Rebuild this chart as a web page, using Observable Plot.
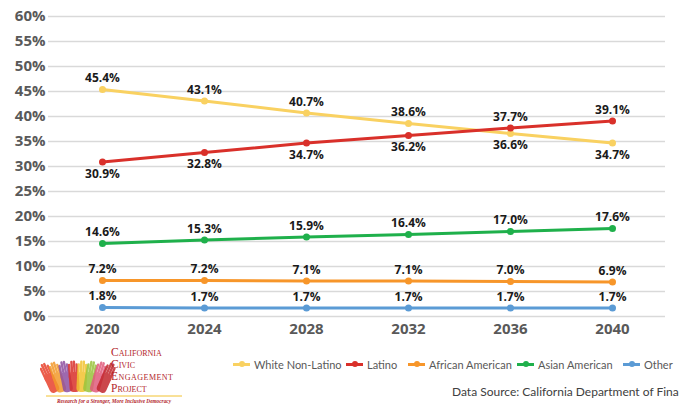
<!DOCTYPE html>
<html><head><meta charset="utf-8">
<script src="https://cdn.jsdelivr.net/npm/d3@7"></script>
<script src="https://cdn.jsdelivr.net/npm/@observablehq/plot@0.6"></script>
<style>
body{margin:0;background:#fff;}
#wrap{position:relative;width:679px;height:407px;overflow:hidden;font-family:"Open Sans",sans-serif;}
#foot{position:absolute;left:0;top:340px;width:679px;height:67px;}
.leg{position:absolute;top:18px;font-family:Lato,sans-serif;font-size:11px;color:#595959;white-space:nowrap;display:flex;align-items:center;}
.sw{display:inline-block;position:relative;width:17px;height:3px;margin-right:4px;}
.sw i{position:absolute;left:6px;top:-2px;width:6px;height:6px;border-radius:50%;}
#src{position:absolute;left:452px;top:44px;font-family:Lato,sans-serif;font-size:12px;color:#404040;white-space:nowrap;}
</style></head><body>
<div id="wrap"><div id="chart"></div><div id="foot">
<svg id="logo" width="200" height="67" style="position:absolute;left:40px;top:0"></svg>
<div id="legend"></div>
<div id="src">Data Source: California Department of Finance</div>
</div></div>
<script>
const years = ["2020","2024","2028","2032","2036","2040"];
const seriesNames = ["White Non-Latino","Latino","African American","Asian American","Other"];
const white = [45.4,43.1,40.7,38.6,36.6,34.7];
const latino = [30.9,32.8,34.7,36.2,37.7,39.1];
const african = [7.2,7.2,7.1,7.1,7.0,6.9];
const asian = [14.6,15.3,15.9,16.4,17.0,17.6];
const other = [1.8,1.7,1.7,1.7,1.7,1.7];
const yTicks = [0,5,10,15,20,25,30,35,40,45,50,55,60];
const colors = ["#F9D161","#D9302A","#F7962A","#1FB04B","#5B9BD5"];

const values = [white, latino, african, asian, other];
const data = [];
values.forEach((arr, s) => arr.forEach((v, i) => {
  let below = false;
  if (s === 0) below = v < latino[i];
  if (s === 1) below = v < white[i];
  data.push({series: seriesNames[s], year: years[i], value: v, below});
}));

const chart = Plot.plot({
  width: 679, height: 340,
  marginLeft: 48, marginRight: 14, marginTop: 16, marginBottom: 24,
  style: {fontFamily: "Open Sans, sans-serif", fontSize: "15px", fontWeight: "bold", color: "#595959", background: "#fff"},
  x: {type: "point", domain: years, padding: 0.5, label: null},
  y: {domain: [0, 60], label: null},
  color: {domain: seriesNames, range: colors},
  marks: [
    Plot.ruleY(yTicks, {stroke: "#d9d9d9", strokeWidth: 1.5, strokeOpacity: 1}),
    Plot.axisY({ticks: yTicks, tickSize: 0, tickPadding: 3, tickFormat: d => d + "%", fontSize: 15, fontWeight: "bold", label: null}),
    Plot.axisX({tickSize: 0, tickPadding: 7, fontSize: 15, fontWeight: "bold", label: null}),
    Plot.line(data, {x: "year", y: "value", z: "series", stroke: "series", strokeWidth: 3}),
    Plot.dot(data, {x: "year", y: "value", fill: "series", r: 3.5}),
    Plot.text(data.filter(d => !d.below), {x: "year", y: "value", text: d => d.value.toFixed(1) + "%", dy: -11, fill: "#1a1a1a", fontSize: 12, fontWeight: "bold"}),
    Plot.text(data.filter(d => d.below), {x: "year", y: "value", text: d => d.value.toFixed(1) + "%", dy: 12, fill: "#1a1a1a", fontSize: 12, fontWeight: "bold"})
  ]
});
document.getElementById("chart").appendChild(chart);

// legend
const legX = [233, 346, 408, 517, 623];
const legend = document.getElementById("legend");
seriesNames.forEach((n, i) => {
  const d = document.createElement("div");
  d.className = "leg";
  d.style.left = legX[i] + "px";
  d.innerHTML = `<span class="sw" style="background:${colors[i]}"><i style="background:${colors[i]}"></i></span>${n}`;
  legend.appendChild(d);
});

// logo (decorative)
const logo = d3.select("#logo");
const handCols = ["#E8412C","#F39A2B","#8E4FA0","#D9302A","#F2C230","#9AC43C","#E15B7C","#C2272D"];
handCols.forEach((c, i) => {
  const cx = 16 + i * 6.3, ang = -25 + i * 7;
  const g = logo.append("g").attr("transform", `translate(${cx},${52}) rotate(${ang})`).attr("opacity", 0.85);
  g.append("rect").attr("x", -5).attr("y", -20).attr("width", 10).attr("height", 20).attr("rx", 4).attr("fill", c);
  [-4,-1.5,1,3.5].forEach((fx, k) => g.append("rect").attr("x", fx - 1.1).attr("y", -33 + Math.abs(k - 1.5) * 3).attr("width", 2.4).attr("height", 15).attr("rx", 1.2).attr("fill", c));
});
const words = ["California", "Civic", "Engagement", "Project"];
words.forEach((w, i) => {
  logo.append("text").attr("x", 71).attr("y", 16 + i * 12).attr("fill", "#B3262B")
    .attr("font-family", "Liberation Serif, serif").attr("font-size", 11.5)
    .attr("textLength", i === 2 ? 62 : null)
    .style("font-variant", "small-caps").text(w);
});
logo.append("line").attr("x1", 6).attr("x2", 142).attr("y1", 56).attr("y2", 56).attr("stroke", "#F2C230").attr("stroke-width", 1);
logo.append("text").attr("x", 74).attr("y", 63).attr("text-anchor", "middle").attr("font-size", 5.3).attr("font-style", "italic").attr("font-weight", "bold").attr("fill", "#B3262B").attr("font-family", "Liberation Serif, serif").text("Research for a Stronger, More Inclusive Democracy");
</script>
</body></html>
